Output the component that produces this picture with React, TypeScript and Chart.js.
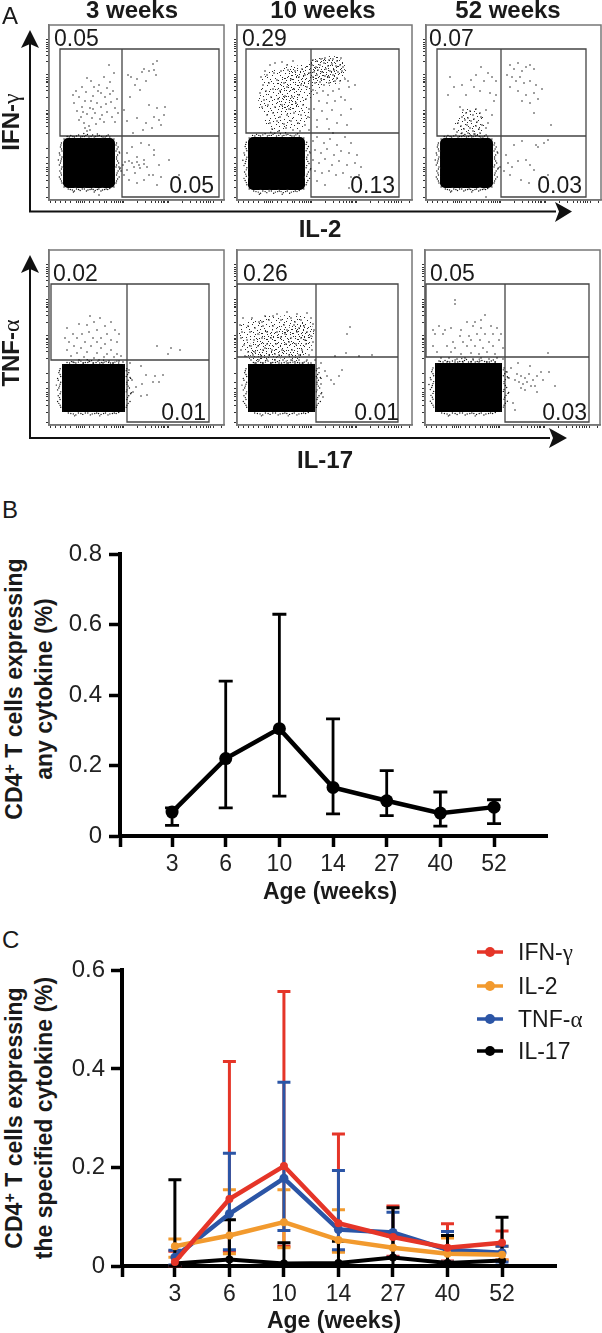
import React, { useEffect, useRef } from "react";
import { Chart, registerables } from "chart.js";
Chart.register(...registerables);

type Pt = number[];
const FONT = '"Liberation Sans", Arial, sans-serif';
const ageLabels = ["3", "6", "10", "14", "27", "40", "52"];
const ageIndex = [1, 2, 3, 4, 5, 6, 7];

// Panel B
const anyMean = [0.068, 0.22, 0.305, 0.138, 0.1, 0.065, 0.082];
const anyHigh = [0.08, 0.44, 0.63, 0.333, 0.186, 0.125, 0.103];
const anyLow = [0.03, 0.08, 0.113, 0.063, 0.058, 0.028, 0.035];
const bTicks = [0, 0.2, 0.4, 0.6, 0.8];

// Panel C
const ifnMean = [0.008, 0.136, 0.203, 0.087, 0.059, 0.037, 0.047];
const ifnHigh = [0.03, 0.415, 0.557, 0.268, 0.122, 0.086, 0.071];
const ifnLow = [0, 0.03, 0.04, 0.03, 0.02, 0.01, 0.012];
const il2Mean = [0.04, 0.062, 0.089, 0.053, 0.037, 0.025, 0.023];
const il2High = [0.055, 0.155, 0.155, 0.114, 0.06, 0.057, 0.04];
const il2Low = [0.018, 0.025, 0.037, 0.028, 0.015, 0.008, 0.012];
const tnfMean = [0.018, 0.106, 0.178, 0.074, 0.068, 0.033, 0.027];
const tnfHigh = [0.032, 0.229, 0.373, 0.194, 0.109, 0.07, 0.04];
const tnfLow = [0.002, 0.033, 0.072, 0.033, 0.018, 0.008, 0.008];
const il17Mean = [0.005, 0.013, 0.005, 0.006, 0.017, 0.006, 0.011];
const il17High = [0.175, 0.094, 0.047, 0.05, 0.118, 0.062, 0.099];
const il17Low = [0, 0, 0, 0, 0, 0, 0];
const cTicks = [0, 0.2, 0.4, 0.6];

// Flow panels: event coordinates on the 175-unit cytometer display
const flowTicksX = [1, 6, 11, 16, 21, 27, 29, 31, 33, 35, 40, 45, 50, 55, 58, 62, 65, 67, 69, 71, 73, 74, 88, 96, 102, 106, 109, 112, 114, 116, 118, 119, 133, 141, 147, 151, 154, 157, 159, 161, 164, 172];
const flowTicksY = [14, 17, 19, 21, 23, 26, 30, 36, 49, 52, 54, 56, 58, 61, 65, 72, 85, 88, 90, 92, 94, 97, 101, 108, 123, 132, 138, 142, 144, 146, 150, 155, 162, 172];

const edgeEvents: Pt[] = [[.08,-.03],[.15,-.05],[.22,-.02],[.3,-.06],[.37,-.03],[.44,-.05],[.5,-.02],[.57,-.06],[.63,-.03],[.7,-.05],[.77,-.02],[.84,-.04],[.9,-.02],[.1,1.02],[.18,1.04],[.26,1.02],[.33,1.05],[.41,1.02],[.48,1.04],[.55,1.02],[.62,1.05],[.69,1.02],[.76,1.04],[.83,1.02],[.9,1.01],[-.03,.1],[-.05,.18],[-.02,.26],[-.06,.34],[-.03,.42],[-.05,.5],[-.02,.58],[-.06,.66],[-.03,.74],[-.05,.82],[-.02,.9],[1.03,.1],[1.06,.18],[1.02,.26],[1.05,.34],[1.03,.42],[1.07,.5],[1.02,.58],[1.06,.66],[1.03,.74],[1.05,.82],[1.02,.9],[-.09,.44],[1.1,.6],[1.09,.3],[.4,-.09],[.66,-.08],[.2,1.08],[.6,1.08],[.02,.02],[.98,.02],[.02,.98],[.98,.98],[.12,-.02],[.19,-.03],[.26,-.04],[.34,-.02],[.41,-.03],[.47,-.07],[.54,-.03],[.6,-.02],[.67,-.04],[.74,-.03],[.81,-.02],[.87,-.06],[.14,1.03],[.22,1.06],[.3,1.03],[.37,1.02],[.45,1.06],[.52,1.03],[.58,1.03],[.66,1.03],[.73,1.06],[.8,1.03],[.86,1.03],[-.04,.14],[-.03,.22],[-.07,.3],[-.02,.38],[-.04,.46],[-.07,.54],[-.03,.62],[-.04,.7],[-.07,.78],[-.03,.86],[1.02,.14],[1.04,.22],[1.08,.28],[1.03,.38],[1.05,.46],[1.03,.54],[1.09,.62],[1.04,.7],[1.08,.78],[1.03,.86]];

// Stipple tile for the densest event clouds (31 x 29 cells)
const stippleCells: Pt[] = [[2,1],[9,0],[15,2],[23,1],[28,3],[5,4],[12,5],[19,4],[26,6],[0,7],[8,8],[16,7],[22,9],[30,8],[3,10],[11,11],[18,10],[25,12],[6,13],[14,14],[20,13],[29,14],[1,15],[9,16],[17,16],[24,15],[4,18],[12,18],[21,18],[27,19],[7,20],[15,21],[23,21],[30,20],[2,22],[10,23],[18,23],[26,24],[5,25],[13,26],[20,25],[28,26],[0,27],[8,27],[16,28],[24,28],[6,1],[19,1],[25,3],[13,8],[27,10],[4,13],[22,16],[10,19],[17,20],[3,24],[22,26],[29,23],[11,2],[7,10],[16,12],[28,17]];

type Panel = {
  blobX: number[]; blobY: number[]; bounds: number[]; sharp: boolean;
  gate: Pt[]; dots: Pt[]; clouds: Pt[]; core: Pt[];
};

const p11: Panel = {
  blobX: [22, 31, 40, 49, 58], blobY: [121, 130, 138, 147, 155], bounds: [14, 113, 66, 163], sharp: false,
  gate: [[73,24],[11,24],[11,111],[170,111],[170,24],[73,24],[73,172],[170,172],[170,111]],
  clouds: [], core: [],
  dots: [[60,40],[65,48],[55,52],[38,53],[42,56],[61,57],[50,60],[33,62],[45,62],[58,63],[27,66],[37,67],[52,68],[64,66],[30,72],[44,71],[56,72],[25,78],[36,76],[48,78],[62,77],[68,74],[33,82],[41,83],[52,82],[66,83],[28,86],[38,89],[46,88],[58,87],[69,88],[32,92],[43,93],[51,94],[63,92],[35,98],[40,101],[47,99],[55,97],[36,103],[38,106],[41,105],[66,97],[30,95],[44,84],[24,70],[57,79],[49,66],[61,69],[34,87],[53,90],[42,76],[108,36],[104,39],[95,44],[100,46],[105,45],[107,50],[93,47],[82,52],[88,54],[97,56],[79,50],[86,60],[91,65],[81,72],[100,80],[108,83],[116,82],[115,90],[105,92],[88,93],[78,96],[97,98],[110,95],[84,108],[94,105],[103,103],[75,85],[112,100],[83,122],[78,128],[92,118],[100,120],[105,125],[88,132],[95,135],[83,138],[76,137],[90,140],[98,142],[105,130],[110,140],[120,135],[78,145],[86,148],[95,155],[104,150],[112,152],[75,150],[80,155],[70,142],[74,140],[72,146],[80,136],[85,142],[88,137],[91,143],[95,139],[130,150],[100,150],[88,158],[108,160],[50,170]],
};

const p12: Panel = {
  blobX: [19, 28, 37, 46, 55, 60], blobY: [120, 129, 138, 147, 157], bounds: [11, 112, 68, 165], sharp: false,
  gate: [[74,24],[9,24],[9,108],[162,108],[162,24],[74,24],[74,172],[162,172],[162,108]],
  clouds: [[38,60],[54,54],[36,78],[52,74],[42,92],[58,90],[64,62],[82,48],[94,46]],
  core: [[78,46],[88,45],[96,43],[52,62],[50,76],[62,50]],
  dots: [[28,46],[33,40],[38,38],[45,37],[50,40],[56,36],[24,52],[30,50],[37,48],[44,46],[51,45],[58,46],[65,44],[26,60],[32,58],[40,55],[47,58],[54,54],[62,52],[68,50],[72,48],[23,68],[29,66],[36,64],[43,66],[50,62],[57,64],[64,60],[70,62],[27,75],[34,72],[41,74],[48,71],[55,72],[62,70],[69,74],[25,82],[31,80],[38,82],[45,80],[52,84],[59,78],[66,80],[72,84],[30,90],[36,88],[43,92],[50,90],[57,88],[64,90],[71,92],[33,98],[40,96],[47,99],[54,96],[61,98],[68,100],[35,104],[42,106],[49,103],[56,105],[63,106],[72,105],[76,35],[80,36],[84,34],[88,33],[92,35],[96,34],[100,36],[104,33],[75,40],[79,42],[83,40],[87,38],[91,41],[95,39],[99,41],[103,40],[106,42],[77,47],[81,45],[85,47],[89,44],[93,46],[97,45],[101,47],[105,46],[76,52],[80,50],[84,54],[88,51],[92,52],[96,50],[100,53],[78,58],[83,57],[87,60],[92,58],[98,56],[103,56],[108,54],[111,56],[76,65],[80,68],[86,66],[91,70],[96,66],[102,64],[112,62],[118,60],[104,72],[82,76],[90,78],[98,76],[108,75],[77,84],[85,86],[95,85],[104,90],[114,84],[80,95],[90,94],[100,98],[80,102],[92,104],[110,100],[96,108],[76,116],[80,112],[87,118],[93,114],[100,120],[108,112],[114,118],[78,125],[84,128],[90,124],[97,130],[104,126],[112,128],[120,130],[76,135],[82,138],[88,134],[95,140],[102,136],[110,140],[118,138],[124,142],[78,146],[85,148],[92,146],[99,150],[106,148],[114,152],[80,156],[88,160],[112,163],[122,150]],
};

const p13: Panel = {
  blobX: [22, 31, 40, 49, 59], blobY: [121, 130, 138, 147, 155], bounds: [14, 113, 67, 163], sharp: false,
  gate: [[75,24],[11,24],[11,111],[160,111],[160,24],[75,24],[75,172],[160,172],[160,111]],
  clouds: [[44,98]], core: [],
  dots: [[55,42],[62,48],[50,50],[66,52],[45,55],[58,56],[70,56],[24,52],[28,62],[36,60],[48,62],[54,66],[64,68],[70,70],[22,70],[40,70],[34,82],[37,85],[40,88],[44,86],[47,90],[50,84],[54,88],[36,92],[39,95],[42,93],[45,96],[48,94],[51,97],[55,92],[60,85],[66,90],[32,98],[35,101],[38,104],[41,100],[44,103],[47,106],[50,101],[53,104],[56,100],[60,103],[28,104],[31,107],[36,108],[42,108],[48,109],[54,108],[62,98],[68,76],[81,50],[84,40],[88,44],[92,38],[96,46],[100,42],[104,40],[108,44],[86,52],[90,56],[94,52],[98,58],[104,56],[110,60],[116,64],[84,62],[92,66],[100,70],[108,68],[96,76],[104,78],[112,74],[108,88],[125,100],[88,120],[96,116],[110,120],[118,118],[122,115],[112,122],[80,130],[82,138],[86,142],[92,136],[100,135],[104,140],[108,145],[84,150],[78,146],[74,142],[95,155],[103,158],[122,150],[60,172]],
};

const p21: Panel = {
  blobX: [21, 30, 39, 48, 57, 66, 68], blobY: [122, 131, 139, 148, 154], bounds: [13, 114, 76, 162], sharp: true,
  gate: [[78,34],[2,34],[2,110],[160,110],[160,34],[78,34],[78,172],[160,172],[160,110]],
  clouds: [], core: [],
  dots: [[41,66],[51,68],[45,72],[62,72],[30,74],[38,75],[56,76],[18,78],[66,80],[48,80],[40,82],[24,84],[33,84],[58,84],[70,84],[16,88],[28,88],[44,88],[52,88],[62,90],[20,92],[36,92],[48,92],[56,94],[68,92],[25,96],[32,98],[42,96],[52,98],[62,100],[18,100],[28,103],[38,102],[48,103],[58,104],[68,104],[22,106],[35,107],[45,108],[55,107],[65,107],[72,106],[30,110],[40,111],[50,110],[60,111],[70,111],[24,112],[34,113],[44,113],[54,113],[64,113],[74,112],[108,96],[119,104],[131,100],[122,98],[81,113],[92,116],[97,125],[106,126],[114,125],[83,130],[87,137],[93,134],[104,132],[110,132],[84,142],[92,146],[80,120],[98,145]],
};

const p22: Panel = {
  blobX: [19, 28, 37, 46, 55, 64, 70], blobY: [122, 131, 139, 148, 154], bounds: [11, 114, 78, 162], sharp: true,
  gate: [[79,34],[0,34],[0,107],[161,107],[161,34],[79,34],[79,172],[161,172],[161,107]],
  clouds: [[16,84],[32,80],[50,80],[62,80],[20,96],[40,94],[60,94]],
  core: [[32,92],[46,88],[58,88],[66,84],[40,100],[56,100],[24,100]],
  dots: [[28,66],[40,64],[50,62],[60,64],[70,63],[6,68],[15,68],[22,72],[32,70],[44,70],[54,68],[64,70],[74,68],[3,75],[11,76],[18,78],[26,76],[36,76],[47,75],[57,75],[67,76],[76,74],[5,82],[13,82],[21,84],[30,82],[40,82],[50,80],[60,82],[70,82],[77,80],[4,88],[10,90],[17,90],[25,88],[34,88],[44,87],[54,88],[64,88],[74,86],[7,95],[14,96],[21,96],[30,94],[39,94],[49,94],[59,94],[69,94],[76,92],[4,100],[11,102],[18,102],[26,100],[35,100],[45,100],[55,100],[65,100],[75,100],[8,106],[16,105],[24,106],[32,105],[42,105],[52,105],[62,105],[72,105],[14,110],[22,110],[30,110],[38,110],[46,110],[54,110],[62,110],[70,110],[78,110],[18,113],[26,113],[34,113],[42,113],[50,113],[58,113],[66,113],[74,113],[25,72],[36,66],[48,84],[58,72],[68,90],[28,98],[38,104],[52,92],[62,78],[113,77],[110,84],[109,103],[122,106],[135,105],[98,106],[84,113],[82,118],[88,121],[90,126],[94,130],[102,126],[97,134],[84,134],[86,147],[80,128],[105,120]],
};

const p23: Panel = {
  blobX: [18, 27, 36, 45, 54, 63, 69], blobY: [121, 130, 139, 148, 154], bounds: [10, 113, 77, 162], sharp: true,
  gate: [[80,34],[1,34],[1,107],[164,107],[164,34],[80,34],[80,172],[164,172],[164,107]],
  clouds: [], core: [],
  dots: [[30,50],[30,54],[60,65],[56,70],[42,72],[50,72],[48,76],[66,76],[8,80],[14,76],[20,80],[26,78],[36,80],[56,78],[72,78],[10,84],[18,84],[35,86],[44,86],[52,84],[60,84],[68,84],[76,84],[28,92],[38,92],[46,90],[55,90],[64,92],[74,90],[8,96],[22,96],[30,98],[42,96],[50,96],[58,98],[68,96],[78,98],[12,102],[26,102],[36,104],[46,103],[54,104],[62,102],[70,104],[16,108],[24,108],[32,109],[40,108],[48,109],[56,108],[64,109],[72,108],[78,109],[14,111],[22,112],[30,112],[38,112],[46,112],[54,112],[62,112],[70,112],[123,103],[93,113],[105,116],[82,122],[86,118],[92,124],[96,126],[100,128],[104,124],[108,130],[112,126],[116,122],[118,130],[94,132],[98,134],[102,132],[106,136],[110,136],[90,130],[84,128],[124,122],[130,136],[100,140],[112,142],[88,153],[90,160],[96,138]],
};

const flowPanels: { p: Panel; x: number; y: number }[] = [
  { p: p11, x: 49, y: 25 }, { p: p12, x: 237, y: 25 }, { p: p13, x: 426, y: 25 },
  { p: p21, x: 49, y: 250 }, { p: p22, x: 237, y: 250 }, { p: p23, x: 425, y: 250 },
];

const upperGateLabels = [["0.05", 54, 46], ["0.29", 242, 46], ["0.07", 429, 46], ["0.02", 53, 281], ["0.26", 243, 281], ["0.05", 430, 281]];
const lowerGateLabels = [["0.05", 214, 193], ["0.13", 395, 193], ["0.03", 582, 193], ["0.01", 206, 420], ["0.01", 399, 420], ["0.03", 587, 420]];
const columnTitles = [["3 weeks", 132], ["10 weeks", 323], ["52 weeks", 508]];

const xy = (a: Pt[]) => a.map(([x, y]) => ({ x, y }));

function stipple(shiftX: number, shiftY: number): CanvasPattern | string {
  const tile = document.createElement("canvas");
  tile.width = 31;
  tile.height = 29;
  const ctx = tile.getContext("2d");
  if (!ctx) return "rgba(0,0,0,0.15)";
  ctx.fillStyle = "#2a2a2a";
  stippleCells.forEach(([x, y]) => ctx.fillRect((x + shiftX) % 31, (y + shiftY) % 29, 1, 1));
  return ctx.createPattern(tile, "repeat") || "rgba(0,0,0,0.15)";
}

const framePlugin = {
  id: "frame",
  beforeDatasetsDraw(c: any) {
    const { left, top, width, height } = c.chartArea;
    c.ctx.save();
    c.ctx.strokeStyle = "#777";
    c.ctx.lineWidth = 1.5;
    c.ctx.strokeRect(left, top, width, height);
    c.ctx.restore();
  },
};

function flowConfig(p: Panel): any {
  const [bx0, by0, bx1, by1] = p.bounds;
  const blob: Pt[] = [];
  p.blobX.forEach((x) => p.blobY.forEach((y) => blob.push([x, y])));
  const edge: Pt[] = edgeEvents.map(([u, v]) => [bx0 + u * (bx1 - bx0), by0 + v * (by1 - by0)]);
  const evPoint = { showLine: false, pointBorderWidth: 0 };
  return {
    type: "scatter",
    data: {
      datasets: [
        { ...evPoint, data: xy(p.clouds), pointRadius: 15, pointBackgroundColor: stipple(0, 0) },
        { ...evPoint, data: xy(p.core), pointRadius: 12, pointBackgroundColor: stipple(13, 7) },
        { ...evPoint, data: xy(p.dots), pointRadius: 0.75, pointBackgroundColor: "#111" },
        { ...evPoint, data: xy(edge), pointRadius: 0.7, pointBackgroundColor: "#111" },
        { ...evPoint, data: xy(blob), pointRadius: p.sharp ? 11.3 : 9.3, pointStyle: p.sharp ? "rect" : "rectRounded", pointBackgroundColor: "#000" },
        { showLine: true, data: xy(p.gate), pointRadius: 0, borderColor: "#444", borderWidth: 1.3, fill: false },
      ],
    },
    options: {
      responsive: false, animation: false, devicePixelRatio: 1,
      layout: { autoPadding: false, padding: { top: 2, right: 2 } },
      plugins: { legend: { display: false }, tooltip: { enabled: false } },
      scales: {
        x: {
          type: "linear", min: 0, max: 175,
          afterBuildTicks: (s: any) => { s.ticks = flowTicksX.map((value) => ({ value })); },
          afterFit: (s: any) => { s.height = 6; },
          ticks: { display: false, autoSkip: false },
          grid: { drawOnChartArea: false, tickLength: 3, tickWidth: 1, tickColor: "#333" },
          border: { color: "#777", width: 1.5 },
        },
        y: {
          type: "linear", min: 0, max: 175, reverse: true,
          afterBuildTicks: (s: any) => { s.ticks = flowTicksY.map((value) => ({ value })); },
          afterFit: (s: any) => { s.width = 6; },
          ticks: { display: false, autoSkip: false },
          grid: { drawOnChartArea: false, tickLength: 3, tickWidth: 1, tickColor: "#333" },
          border: { color: "#777", width: 1.5 },
        },
      },
    },
  };
}

const errorBars = {
  id: "errorBars",
  beforeDatasetsDraw(c: any) {
    const ctx = c.ctx;
    const x = c.scales.x, y = c.scales.y;
    c.data.datasets.forEach((d: any) => {
      ctx.save();
      ctx.strokeStyle = d.borderColor;
      ctx.lineWidth = d.errWidth;
      d.data.forEach((pt: any, i: number) => {
        const px = x.getPixelForValue(pt.x);
        const hi = y.getPixelForValue(d.high[i]);
        const lo = y.getPixelForValue(d.low[i]);
        ctx.beginPath();
        ctx.moveTo(px, hi); ctx.lineTo(px, lo);
        ctx.moveTo(px - d.capHalf, hi); ctx.lineTo(px + d.capHalf, hi);
        ctx.moveTo(px - d.capHalf, lo); ctx.lineTo(px + d.capHalf, lo);
        ctx.stroke();
      });
      ctx.restore();
    });
  },
};

function series(mean: number[], high: number[], low: number[], color: string, lw: number, errWidth: number, r: number, capHalf: number) {
  return {
    data: mean.map((y, i) => ({ x: ageIndex[i], y })), high, low,
    borderColor: color, backgroundColor: color, borderWidth: lw,
    pointBackgroundColor: color, pointBorderWidth: 0, pointRadius: r,
    errWidth, capHalf, showLine: true, tension: 0, clip: false,
  };
}

function lineConfig(datasets: any[], yTicks: number[], yMax: number, xMax: number, axisWidth: number, yPad: number): any {
  const xMin = 0.03;
  return {
    type: "scatter",
    data: { datasets },
    options: {
      responsive: false, animation: false, devicePixelRatio: 1,
      layout: { autoPadding: false, padding: { right: 2 } },
      plugins: { legend: { display: false }, tooltip: { enabled: false } },
      scales: {
        x: {
          type: "linear", min: xMin, max: xMax,
          afterBuildTicks: (s: any) => { s.ticks = [xMin, ...ageIndex].map((value) => ({ value })); },
          afterFit: (s: any) => { s.height = 50; },
          ticks: {
            autoSkip: false, maxRotation: 0, padding: 4, color: "#222",
            font: { family: FONT, size: 23 },
            callback: (v: number) => (v < 1 ? "" : ageLabels[v - 1]),
          },
          grid: { drawOnChartArea: false, tickLength: 11, tickWidth: 3.5, tickColor: "#000" },
          border: { color: "#000", width: 4 },
        },
        y: {
          type: "linear", min: 0, max: yMax,
          afterBuildTicks: (s: any) => { s.ticks = yTicks.map((value) => ({ value })); },
          afterFit: (s: any) => { s.width = axisWidth; },
          ticks: {
            padding: yPad, color: "#222",
            font: { family: FONT, size: 24 },
            callback: (v: number) => (v === 0 ? "0" : v.toFixed(1)),
          },
          grid: { drawOnChartArea: false, tickLength: 11, tickWidth: 3.5, tickColor: "#000" },
          border: { color: "#000", width: 4 },
        },
      },
    },
  };
}

function ChartCanvas({ config, plugins, left, top, width, height }: any) {
  const ref = useRef<HTMLCanvasElement>(null);
  useEffect(() => {
    const chart = new Chart(ref.current as any, { ...config, plugins });
    return () => chart.destroy();
  }, []);
  return <canvas ref={ref} width={width} height={height} style={{ position: "absolute", left, top, width, height }} />;
}

function T({ x, base, size, bold, anchor, children, color }: any) {
  const tx = anchor === "end" ? "-100%" : anchor === "middle" ? "-50%" : "0";
  return (
    <div style={{
      position: "absolute", left: x, top: base - 0.8465 * size, fontFamily: FONT, fontSize: size,
      lineHeight: `${size}px`, fontWeight: bold ? 700 : 400, color: color || "#1a1a1a",
      whiteSpace: "nowrap", transform: `translateX(${tx})`,
    }}>{children}</div>
  );
}

function VText({ cx, cy, size, children, bold = true }: any) {
  return (
    <div style={{
      position: "absolute", left: cx, top: cy, fontFamily: FONT, fontSize: size, fontWeight: bold ? 700 : 400,
      lineHeight: `${size}px`, color: "#1a1a1a", whiteSpace: "nowrap",
      transform: "translate(-50%,-50%) rotate(-90deg)",
    }}>{children}</div>
  );
}

const Sup = ({ children }: any) => <span style={{ fontSize: "0.7em", verticalAlign: "0.4em", lineHeight: 0 }}>{children}</span>;
const Greek = ({ children }: any) => <span style={{ fontFamily: '"Liberation Serif", serif', fontWeight: 400 }}>{children}</span>;

const legendItems: [React.ReactNode, string, number][] = [
  [<>IFN-<Greek>γ</Greek></>, "#e53528", 952],
  ["IL-2", "#f29a2e", 986],
  [<>TNF-<Greek>α</Greek></>, "#2b55a6", 1019],
  ["IL-17", "#000000", 1051],
];

export default function App() {
  const bData = [series(anyMean, anyHigh, anyLow, "#000000", 4.5, 2.8, 6.5, 7)];
  const cData = [
    series(ifnMean, ifnHigh, ifnLow, "#e53528", 4.5, 3, 4, 6.5),
    series(il2Mean, il2High, il2Low, "#f29a2e", 4.5, 3, 4, 6.5),
    series(tnfMean, tnfHigh, tnfLow, "#2b55a6", 4.5, 3, 4.5, 6.5),
    series(il17Mean, il17High, il17Low, "#000000", 4, 3, 4, 6.5),
  ];
  return (
    <div style={{ position: "absolute", left: 0, top: 0, width: 602, height: 1333, overflow: "hidden", background: "#fff" }}>
      {flowPanels.map(({ p, x, y }, i) => (
        <ChartCanvas key={i} config={flowConfig(p)} plugins={[framePlugin]} left={x - 6} top={y - 2} width={183} height={183} />
      ))}
      <svg width={602} height={480} style={{ position: "absolute", left: 0, top: 0 }}>
        <path d="M30 44V211.5H556" fill="none" stroke="#111" strokeWidth={2} />
        <path d="M30 30L39 48L30 44L21 48Z M572 211.5L555 202L559 211.5L555 222Z" fill="#111" />
        <path d="M30 269V438H550" fill="none" stroke="#111" strokeWidth={2} />
        <path d="M30 255L39 273L30 269L21 273Z M567 438L549 428L553 438L549 448Z" fill="#111" />
      </svg>
      {columnTitles.map(([t, x]) => <T key={t as string} x={x} base={18} size={24} bold anchor="middle">{t}</T>)}
      {upperGateLabels.map(([t, x, b], i) => <T key={i} x={x} base={b} size={23}>{t}</T>)}
      {lowerGateLabels.map(([t, x, b], i) => <T key={i} x={x} base={b} size={23} anchor="end">{t}</T>)}
      <T x={2} base={24} size={24}>A</T>
      <T x={2} base={518} size={24}>B</T>
      <T x={2} base={948} size={24}>C</T>
      <VText cx={11} cy={122} size={24}>IFN-<Greek>γ</Greek></VText>
      <VText cx={11} cy={353} size={24}>TNF-<Greek>α</Greek></VText>
      <T x={320} base={237} size={24} bold anchor="middle">IL-2</T>
      <T x={325} base={468} size={24} bold anchor="middle">IL-17</T>

      <ChartCanvas config={lineConfig(bData, bTicks, 0.8, 7.987, 60, 7)} plugins={[errorBars]} left={60} top={533} width={489} height={353} />
      <VText cx={14} cy={689} size={23}>CD4<Sup>+</Sup> T cells expressing</VText>
      <VText cx={44} cy={689} size={23}>any cytokine (%)</VText>
      <T x={330} base={899} size={23} bold anchor="middle">Age (weeks)</T>

      <ChartCanvas config={lineConfig(cData, cTicks, 0.6, 7.99, 60, 6)} plugins={[errorBars]} left={62} top={950} width={496} height={366} />
      <VText cx={14} cy={1118} size={23}>CD4<Sup>+</Sup> T cells expressing</VText>
      <VText cx={44} cy={1118} size={23}>the specified cytokine (%)</VText>
      <T x={334} base={1328} size={23} bold anchor="middle">Age (weeks)</T>

      {legendItems.map(([label, color, y], i) => (
        <React.Fragment key={i}>
          <svg width={26} height={12} style={{ position: "absolute", left: 477, top: y - 6 }}>
            <path d="M0 6H26" stroke={color} strokeWidth={3.5} />
            <circle cx={13} cy={6} r={5} fill={color} />
          </svg>
          <T x={518} base={y + 8} size={23}>{label}</T>
        </React.Fragment>
      ))}
    </div>
  );
}
